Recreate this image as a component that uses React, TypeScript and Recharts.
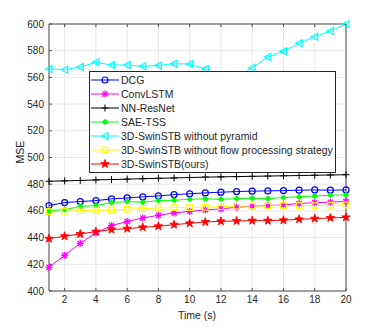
import React from 'react';
import { LineChart, Line, XAxis, YAxis, CartesianGrid, Legend } from 'recharts';

const time = [1, 2, 3, 4, 5, 6, 7, 8, 9, 10, 11, 12, 13, 14, 15, 16, 17, 18, 19, 20];
const dcg = [464, 466.2, 467, 467.7, 469, 469.7, 470.5, 471.2, 472.2, 472.8, 473.5, 474, 474.5, 474.8, 475, 475.2, 475.5, 475.7, 475.5, 475.7];
const convLstm = [417.7, 426.7, 435.7, 443.5, 449, 452, 454.7, 456.7, 458.5, 459.6, 460.7, 461.5, 462.7, 463.5, 464, 464.5, 465.5, 466.2, 466.5, 467.2];
const nnResNet = [482.2, 482.5, 482.8, 483.2, 483.5, 483.8, 484.1, 484.4, 484.7, 485, 485.3, 485.5, 485.7, 485.9, 486.1, 486.3, 486.5, 486.7, 486.9, 487.1];
const saeTss = [460, 461, 463.3, 464, 466.2, 467, 466.5, 467.7, 468, 468.7, 469, 468.7, 469.2, 469.5, 469.2, 470, 470.5, 471.2, 471.7, 472];
const noPyramid = [566.3, 565.8, 567.8, 571.3, 569.3, 569.3, 568.3, 569, 570.3, 570, 566.3, 560.5, 560, 567.2, 575.2, 579.5, 585.5, 590.5, 594.7, 600];
const noFlow = [459.5, 459.7, 460.2, 460.5, 460.7, 461.2, 461.7, 462.2, 462.5, 462.5, 462.7, 463.2, 463.5, 463.7, 463.7, 464, 464, 464, 464.2, 464.5];
const ours = [439.2, 441, 442.7, 444.5, 446, 446.7, 447.7, 448.5, 449.7, 450.7, 451.7, 452.2, 452.5, 452.7, 452.7, 453, 453.7, 454.2, 454.7, 455.2];

const xTicks = [2, 4, 6, 8, 10, 12, 14, 16, 18, 20];
const yTicks = [400, 420, 440, 460, 480, 500, 520, 540, 560, 580, 600];

const data = time.map((t, i) => ({
  t,
  dcg: dcg[i],
  convLstm: convLstm[i],
  nnResNet: nnResNet[i],
  saeTss: saeTss[i],
  noPyramid: noPyramid[i],
  noFlow: noFlow[i],
  ours: ours[i],
}));

const series = [
  { key: 'dcg', name: 'DCG', color: '#0000ff', marker: 'circle' },
  { key: 'convLstm', name: 'ConvLSTM', color: '#ff00ff', marker: 'asterisk' },
  { key: 'nnResNet', name: 'NN-ResNet', color: '#000000', marker: 'plus' },
  { key: 'saeTss', name: 'SAE-TSS', color: '#00ff00', marker: 'dot' },
  { key: 'noPyramid', name: '3D-SwinSTB without pyramid', color: '#00ffff', marker: 'triangle' },
  { key: 'noFlow', name: '3D-SwinSTB without flow processing strategy', color: '#ffff00', marker: 'square' },
  { key: 'ours', name: '3D-SwinSTB(ours)', color: '#ff0000', marker: 'star' },
];

const FONT = '"Liberation Sans", Arial, Helvetica, sans-serif';
const AXIS = '#4d4d4d';
const TEXT = '#262626';

const starPoints = (cx: number, cy: number, r: number) => {
  const pts: string[] = [];
  for (let i = 0; i < 10; i++) {
    const rad = i % 2 === 0 ? r : r * 0.4;
    const a = -Math.PI / 2 + (i * Math.PI) / 5;
    pts.push(`${cx + rad * Math.cos(a)},${cy + rad * Math.sin(a)}`);
  }
  return pts.join(' ');
};

const Marker = ({ kind, cx, cy, color }: { kind: string; cx: number; cy: number; color: string }) => {
  if (cx == null || cy == null) return null;
  switch (kind) {
    case 'circle':
      return <circle cx={cx} cy={cy} r={3} fill="none" stroke={color} strokeWidth={1.2} />;
    case 'asterisk':
      return (
        <g stroke={color} strokeWidth={1.3}>
          <line x1={cx - 3.5} y1={cy} x2={cx + 3.5} y2={cy} />
          <line x1={cx} y1={cy - 3.5} x2={cx} y2={cy + 3.5} />
          <line x1={cx - 2.6} y1={cy - 2.6} x2={cx + 2.6} y2={cy + 2.6} />
          <line x1={cx - 2.6} y1={cy + 2.6} x2={cx + 2.6} y2={cy - 2.6} />
        </g>
      );
    case 'plus':
      return (
        <g stroke={color} strokeWidth={1}>
          <line x1={cx - 3.5} y1={cy} x2={cx + 3.5} y2={cy} />
          <line x1={cx} y1={cy - 3.5} x2={cx} y2={cy + 3.5} />
        </g>
      );
    case 'dot':
      return (
        <g stroke={color} strokeWidth={1.2}>
          <circle cx={cx} cy={cy} r={1.8} fill={color} />
          <line x1={cx - 2.8} y1={cy} x2={cx + 2.8} y2={cy} />
          <line x1={cx} y1={cy - 2.8} x2={cx} y2={cy + 2.8} />
        </g>
      );
    case 'triangle':
      return (
        <polygon
          points={`${cx - 3.5},${cy} ${cx + 3},${cy - 3.5} ${cx + 3},${cy + 3.5}`}
          fill="none"
          stroke={color}
          strokeWidth={1.2}
        />
      );
    case 'square':
      return <rect x={cx - 2.8} y={cy - 2.8} width={5.6} height={5.6} fill="none" stroke={color} strokeWidth={1.2} />;
    case 'star':
      return <polygon points={starPoints(cx, cy, 4.5)} fill={color} stroke={color} strokeWidth={0.8} />;
    default:
      return null;
  }
};

const LegendBox = () => (
  <div
    style={{
      width: 247,
      height: 102,
      boxSizing: 'border-box',
      border: `1px solid ${TEXT}`,
      background: '#fff',
      paddingTop: 1,
      fontFamily: FONT,
      fontSize: 10.5,
      color: TEXT,
    }}
  >
    {series.map((s) => (
      <div key={s.key} style={{ height: 14, display: 'flex', alignItems: 'center' }}>
        <svg width={31} height={14} style={{ display: 'block' }}>
          <line x1={1} y1={7} x2={29} y2={7} stroke={s.color} strokeWidth={1} />
          <Marker kind={s.marker} cx={15} cy={7} color={s.color} />
        </svg>
        <span style={{ whiteSpace: 'nowrap' }}>{s.name}</span>
      </div>
    ))}
  </div>
);

const tickStyle = { fill: TEXT, fontSize: 10, fontFamily: FONT };

export default function App() {
  return (
    <div style={{ position: 'absolute', left: 0, top: 0, width: 382, height: 327, background: '#fff' }}>
      <LineChart width={382} height={327} data={data} margin={{ top: 0, right: 0, bottom: 0, left: 0 }}>
        <CartesianGrid stroke="#e6e6e6" strokeWidth={1} />
        <XAxis
          dataKey="t"
          type="number"
          domain={[1, 20]}
          ticks={xTicks}
          height={36}
          stroke={AXIS}
          tickSize={-3}
          tickMargin={8}
          tick={tickStyle}
          label={{
            content: () => (
              <text x={197} y={315} textAnchor="middle" dominantBaseline="central" fontSize={10.5} fontFamily={FONT} fill={TEXT}>
                Time (s)
              </text>
            ),
          }}
        />
        <XAxis
          xAxisId="top"
          orientation="top"
          dataKey="t"
          type="number"
          domain={[1, 20]}
          ticks={xTicks}
          height={24}
          stroke={AXIS}
          tickSize={-3}
          tickFormatter={() => ''}
        />
        <YAxis
          type="number"
          domain={[400, 600]}
          ticks={yTicks}
          width={49}
          stroke={AXIS}
          tickSize={-3}
          tickMargin={8}
          tick={tickStyle}
          label={{
            content: () => (
              <text
                x={20}
                y={152}
                transform="rotate(-90 20 152)"
                textAnchor="middle"
                dominantBaseline="central"
                fontSize={10.5}
                fontFamily={FONT}
                fill={TEXT}
              >
                MSE
              </text>
            ),
          }}
        />
        <YAxis
          yAxisId="right"
          orientation="right"
          type="number"
          domain={[400, 600]}
          ticks={yTicks}
          width={36}
          stroke={AXIS}
          tickSize={-3}
          tickFormatter={() => ''}
        />
        {series.map((s) => (
          <Line
            key={s.key}
            dataKey={s.key}
            name={s.name}
            type="linear"
            stroke={s.color}
            strokeWidth={1}
            isAnimationActive={false}
            dot={(p: any) => <Marker key={`${s.key}-${p.index}`} kind={s.marker} cx={p.cx} cy={p.cy} color={s.color} />}
            activeDot={false}
          />
        ))}
        <Legend
          layout="vertical"
          align="center"
          verticalAlign="middle"
          wrapperStyle={{ left: 89, top: 71, width: 247, height: 102 }}
          content={() => <LegendBox />}
        />
      </LineChart>
    </div>
  );
}
